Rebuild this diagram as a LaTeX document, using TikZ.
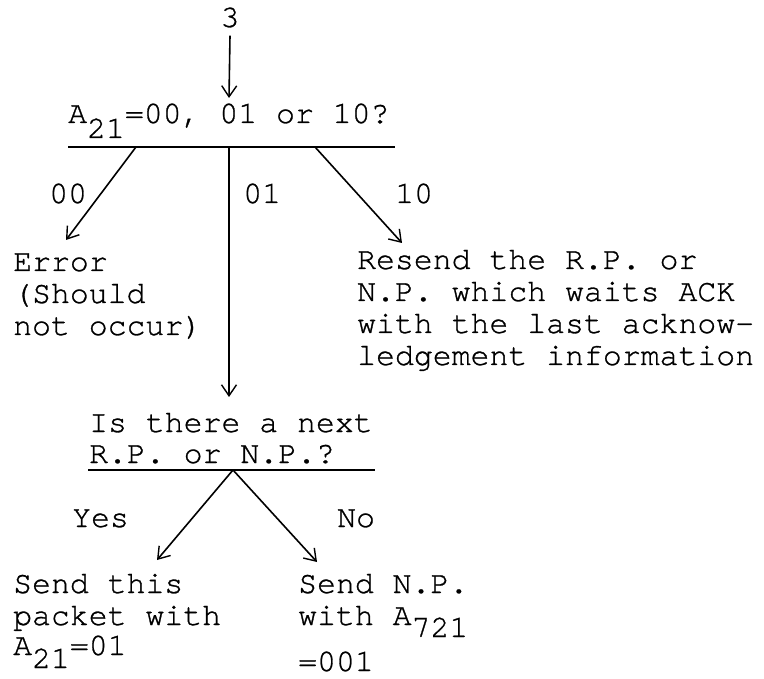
\documentclass[tikz,border=0pt]{standalone}
\usepackage{fontspec}
\newfontfamily\tw[FakeBold=0.9]{TeX Gyre Cursor}
\usetikzlibrary{arrows.meta}
\tikzset{
  txt/.style={anchor=base west, inner sep=0pt, font=\tw\fontsize{31.5pt}{32pt}\selectfont},
  ctxt/.style={anchor=base, inner sep=0pt, font=\tw\fontsize{31.5pt}{32pt}\selectfont},
  conn/.style={line width=1.6pt, -{Straight Barb[length=11pt,width=15pt,line width=1.4pt]}},
  rule/.style={line width=1.6pt}
}
\newcommand{\lowr}[2]{\raisebox{-#1}{#2}}
\begin{document}
\begin{tikzpicture}[x=1pt,y=-1pt]
\useasboundingbox (0,0) rectangle (764,679);
% top
\node[ctxt] (three) at (230,27) {3};
\coordinate (q1in) at (229,98);
\node[txt] (q1) at (68,123) {A\lowr{15pt}{21}=00, 01 or 10?};
\coordinate (q1l) at (68,147);
\coordinate (q1r) at (395,147);
\draw[rule] (q1l) -- (q1r);
\coordinate (b00) at (136,147);
\coordinate (b01) at (229,147);
\coordinate (b10) at (315,147);
\coordinate (t00) at (66,240);
\coordinate (t01) at (229,397);
\coordinate (t10) at (402,243);
\draw[conn] (three.south) ++(0,8) -- (q1in);
\draw[conn] (b00) -- (t00);
\draw[conn] (b01) -- (t01);
\draw[conn] (b10) -- (t10);
\node[txt] (l00) at (49,203) {00};
\node[txt] (l01) at (243,203) {01};
\node[txt] (l10) at (395,203) {10};
% error block
\node[txt] (err1) at (13,271) {Error};
\node[txt] (err2) at (13,303) {(Should};
\node[txt] (err3) at (13,335) {not occur)};
% resend block
\node[txt] (rs1) at (357,269) {Resend the R.P. or};
\node[txt] (rs2) at (357,301) {N.P. which waits ACK};
\node[txt] (rs3) at (357,333) {with the last acknow-};
\node[txt] (rs4) at (357,365) {ledgement information};
% second question
\node[txt] (q2a) at (89,432) {Is there a next};
\node[txt] (q2b) at (89,463) {R.P. or N.P.?};
\coordinate (q2l) at (88,470);
\coordinate (q2r) at (375,470);
\draw[rule] (q2l) -- (q2r);
\coordinate (apex) at (233,470);
\coordinate (tyes) at (157,560);
\coordinate (tno) at (317,562);
\draw[conn] (apex) -- (tyes);
\draw[conn] (apex) -- (tno);
\node[txt] (lyes) at (72,527) {Yes};
\node[txt] (lno) at (337,527) {No};
% send this packet
\node[txt] (s1) at (13,593) {Send this};
\node[txt] (s2) at (13,625) {packet with};
\node[txt] (s3) at (13,655) {A\lowr{13pt}{21}=01};
% send N.P.
\node[txt] (n1) at (298,593) {Send N.P.};
\node[txt] (n2) at (298,625) {with A\lowr{12pt}{721}};
\node[txt] (n3) at (298,671) {=001};
\end{tikzpicture}
\end{document}
